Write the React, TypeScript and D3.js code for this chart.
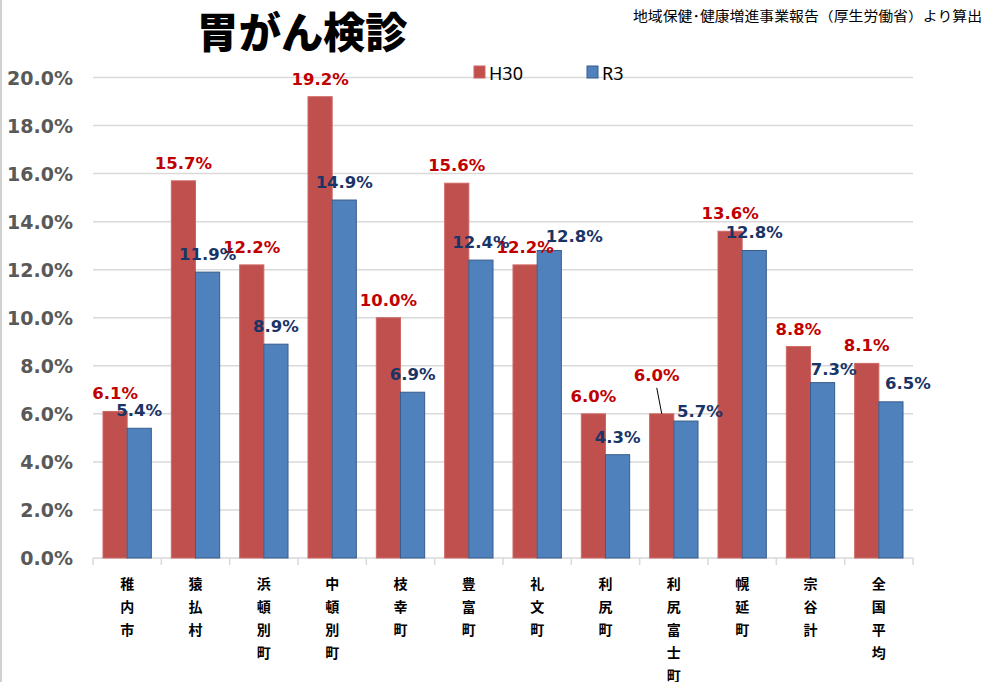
import React from "react";
import * as d3 from "d3";

const categories = ["稚内市", "猿払村", "浜頓別町", "中頓別町", "枝幸町", "豊富町", "礼文町", "利尻町", "利尻富士町", "幌延町", "宗谷計", "全国平均"];
const seriesNames = ["H30", "R3"];
const h30 = [6.1, 15.7, 12.2, 19.2, 10.0, 15.6, 12.2, 6.0, 6.0, 13.6, 8.8, 8.1];
const r3 = [5.4, 11.9, 8.9, 14.9, 6.9, 12.4, 12.8, 4.3, 5.7, 12.8, 7.3, 6.5];
const yTicks = [0, 2, 4, 6, 8, 10, 12, 14, 16, 18, 20];
const title = "胃がん検診";
const source = "地域保健･健康増進事業報告（厚生労働省）より算出";

const W = 984;
const H = 682;
const fillColors: Record<string, string> = { H30: "#c0504d", R3: "#4f81bd" };
const strokeColors: Record<string, string> = { H30: "#cd6764", R3: "#385d8a" };
const labelColors: Record<string, string> = { H30: "#c00000", R3: "#1a3466" };

// label nudges (pixels) for overlapping labels
const nudges: Record<string, { dx: number; dy: number; leader?: boolean }> = {
  "礼文町|R3": { dx: 25, dy: 4 },
  "利尻富士町|H30": { dx: -5, dy: -21, leader: true },
  "利尻富士町|R3": { dx: 14, dy: 8 },
  "宗谷計|R3": { dx: 11, dy: 4 },
  "全国平均|R3": { dx: 17, dy: -1 },
};

export default function App() {
  const x = d3.scaleBand<string>().domain(categories).range([93, 913]).paddingInner(0).paddingOuter(0);
  const bw = x.bandwidth();
  const xs = d3.scaleBand<string>().domain(seriesNames).range([10, bw - 10]).padding(0);
  const y = d3.scaleLinear().domain([0, 20]).range([558, 77.5]);
  const data: Record<string, number[]> = { H30: h30, R3: r3 };

  const fontLatin = "'DejaVu Sans', Verdana, sans-serif";
  const fontCJK = "'Noto Sans CJK JP', 'Noto Sans', sans-serif";

  const labels: React.ReactNode[] = [];
  const bars: React.ReactNode[] = [];
  seriesNames.forEach((s) => {
    categories.forEach((c, i) => {
      const v = data[s][i];
      const bx = (x(c) as number) + (xs(s) as number);
      const top = y(v);
      bars.push(
        <rect key={`b-${s}-${i}`} x={bx} y={top} width={xs.bandwidth()} height={y(0) - top}
          fill={fillColors[s]} stroke={strokeColors[s]} strokeWidth={1} />
      );
      const n = nudges[`${c}|${s}`] || { dx: 0, dy: 0 };
      const cx = bx + xs.bandwidth() / 2;
      const lx = cx + n.dx;
      const ly = top - 12 + n.dy;
      if (n.leader) {
        labels.push(<line key={`ld-${s}-${i}`} x1={lx} y1={ly + 7} x2={cx} y2={top} stroke="#000" strokeWidth={1} />);
      }
      labels.push(
        <text key={`l-${s}-${i}`} x={lx} y={ly} textAnchor="middle" fontFamily={fontLatin}
          fontWeight="bold" fontSize={16.5} fill={labelColors[s]}>
          {v.toFixed(1) + "%"}
        </text>
      );
    });
  });

  return (
    <svg width={W} height={H} style={{ position: "absolute", left: 0, top: 0, background: "#fff" }}>
      <rect x={0} y={0} width={W} height={H} fill="#fff" />
      <line x1={1} y1={0} x2={1} y2={H} stroke="#d0d0d0" strokeWidth={2} />
      <text x={302} y={48} textAnchor="middle" fontFamily={fontCJK} fontWeight={900} fontSize={42} fill="#000"
        textLength={211} lengthAdjust="spacingAndGlyphs">{title}</text>
      <text x={982} y={21} textAnchor="end" fontFamily={fontCJK} fontSize={13.5} fill="#000"
        textLength={349} lengthAdjust="spacingAndGlyphs">{source}</text>

      {yTicks.map((t) => (
        <g key={`t-${t}`}>
          <line x1={93} x2={913} y1={y(t)} y2={y(t)} stroke="#d9d9d9" strokeWidth={1.5} />
          <text x={73} y={y(t) + 7} textAnchor="end" fontFamily={fontLatin} fontWeight="bold" fontSize={19} fill="#595959">
            {t.toFixed(1) + "%"}
          </text>
        </g>
      ))}
      {categories.concat([""]).map((c, i) => {
        const xx = i < categories.length ? (x(c) as number) : 913;
        return <line key={`tk-${i}`} x1={xx} x2={xx} y1={558} y2={565} stroke="#d9d9d9" strokeWidth={1.5} />;
      })}

      {bars}
      {labels}

      {categories.map((c, i) => (
        <text key={`c-${i}`} textAnchor="middle" fontFamily={fontCJK} fontWeight="bold" fontSize={14} fill="#000">
          {Array.from(c).map((ch, j) => (
            <tspan key={j} x={(x(c) as number) + bw / 2} y={589 + j * 23}>{ch}</tspan>
          ))}
        </text>
      ))}

      {seriesNames.map((s, i) => {
        const lx = i === 0 ? 474 : 587;
        return (
          <g key={`lg-${s}`}>
            <rect x={lx} y={66} width={11} height={12} fill={fillColors[s]} stroke={strokeColors[s]} strokeWidth={1} />
            <text x={lx + 15} y={80} fontFamily="'Noto Sans', sans-serif" fontSize={18} fill="#000">{s}</text>
          </g>
        );
      })}
    </svg>
  );
}
